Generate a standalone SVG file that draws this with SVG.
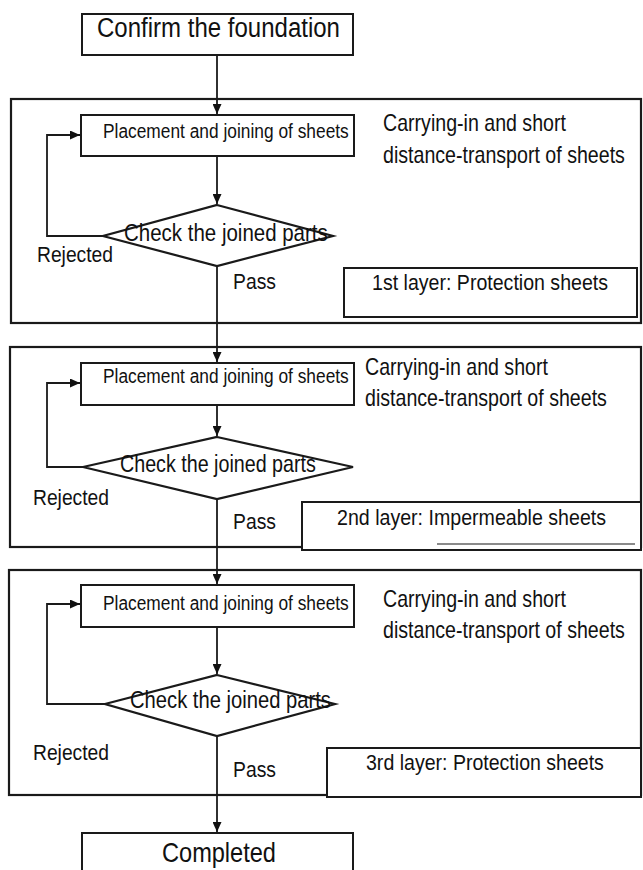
<svg xmlns="http://www.w3.org/2000/svg" width="643" height="870" viewBox="0 0 643 870">
  <defs>
    <marker id="arrow" markerUnits="userSpaceOnUse" markerWidth="10" markerHeight="9" refX="10" refY="4.5" orient="auto">
      <path d="M0,0 L10,4.5 L0,9 z" fill="#111"/>
    </marker>
    <style>
      text { font-family: "Liberation Sans", Arial, sans-serif; fill: #111; }
      .frame { fill: none; stroke: #1a1a1a; stroke-width: 2.2; }
      .box { fill: #fff; stroke: #1a1a1a; stroke-width: 2; }
      .dia { fill: #fff; stroke: #1a1a1a; stroke-width: 2.2; }
      .conn { fill: none; stroke: #1a1a1a; stroke-width: 1.8; }
      .big { font-size: 28px; }
      .proc { font-size: 21px; }
      .chk { font-size: 24px; }
      .note { font-size: 23px; }
      .lbl { font-size: 22px; }
    </style>
  </defs>
  <rect width="643" height="870" fill="#fff"/>

  <!-- layer frames with their side notes (narrow lettering via horizontal scale) -->
  <g id="layer1">
    <rect class="frame" x="11" y="99" width="630" height="224"/>
    <text class="note" transform="translate(383 131) scale(0.852 1)">Carrying-in and short</text>
    <text class="note" transform="translate(383 163) scale(0.853 1)">distance-transport of sheets</text>
    <text class="lbl" transform="translate(37 262) scale(0.876 1)">Rejected</text>
    <text class="lbl" transform="translate(233 289) scale(0.879 1)">Pass</text>
  </g>
  <g id="layer2">
    <rect class="frame" x="10" y="347" width="631" height="200"/>
    <text class="note" transform="translate(365 375) scale(0.852 1)">Carrying-in and short</text>
    <text class="note" transform="translate(365 406) scale(0.853 1)">distance-transport of sheets</text>
    <text class="lbl" transform="translate(33 505) scale(0.876 1)">Rejected</text>
    <text class="lbl" transform="translate(233 529) scale(0.879 1)">Pass</text>
  </g>
  <g id="layer3">
    <rect class="frame" x="9" y="570" width="632" height="225"/>
    <text class="note" transform="translate(383 607) scale(0.852 1)">Carrying-in and short</text>
    <text class="note" transform="translate(383 638) scale(0.853 1)">distance-transport of sheets</text>
    <text class="lbl" transform="translate(33 760) scale(0.876 1)">Rejected</text>
    <text class="lbl" transform="translate(233 777) scale(0.879 1)">Pass</text>
  </g>

  <!-- connectors -->
  <g id="connectors">
    <path class="conn" d="M217,55 V114" marker-end="url(#arrow)"/>
    <path class="conn" d="M217,156 V204" marker-end="url(#arrow)"/>
    <path class="conn" d="M217,266 V362" marker-end="url(#arrow)"/>
    <path class="conn" d="M217,405 V436" marker-end="url(#arrow)"/>
    <path class="conn" d="M217,499 V584" marker-end="url(#arrow)"/>
    <path class="conn" d="M217,627 V674" marker-end="url(#arrow)"/>
    <path class="conn" d="M217,736 V832" marker-end="url(#arrow)"/>
    <path class="conn" d="M103,236 H47 V135 H80" marker-end="url(#arrow)"/>
    <path class="conn" d="M83,467 H47 V383 H80" marker-end="url(#arrow)"/>
    <path class="conn" d="M105,704 H47 V604 H80" marker-end="url(#arrow)"/>
  </g>

  <!-- start / end -->
  <g id="confirm">
    <rect class="box" x="82" y="14" width="271" height="41"/>
    <text class="big" transform="translate(97 37) scale(0.858 1)">Confirm the foundation</text>
  </g>
  <g id="completed">
    <rect class="box" x="82" y="833" width="271" height="60"/>
    <text class="big" transform="translate(162 862) scale(0.842 1)">Completed</text>
  </g>

  <!-- placement steps -->
  <g id="place1">
    <rect class="box" x="81" y="115" width="273" height="41"/>
    <text class="proc" transform="translate(103 138) scale(0.826 1)">Placement and joining of sheets</text>
  </g>
  <g id="place2">
    <rect class="box" x="81" y="363" width="273" height="42"/>
    <text class="proc" transform="translate(103 383) scale(0.826 1)">Placement and joining of sheets</text>
  </g>
  <g id="place3">
    <rect class="box" x="81" y="585" width="273" height="42"/>
    <text class="proc" transform="translate(103 610) scale(0.826 1)">Placement and joining of sheets</text>
  </g>

  <!-- checks -->
  <g id="check1">
    <polygon class="dia" points="217,205 333,236 217,266 103,236"/>
    <text class="chk" transform="translate(124 241) scale(0.854 1)">Check the joined parts</text>
  </g>
  <g id="check2">
    <polygon class="dia" points="217,437 353,467 217,499 83,467"/>
    <text class="chk" transform="translate(120 472) scale(0.821 1)">Check the joined parts</text>
  </g>
  <g id="check3">
    <polygon class="dia" points="217,675 335,704 217,736 105,704"/>
    <text class="chk" transform="translate(130 708) scale(0.842 1)">Check the joined parts</text>
  </g>

  <!-- layer captions -->
  <g id="cap1">
    <rect class="box" x="344" y="268" width="293" height="49"/>
    <text class="lbl" transform="translate(372 290) scale(0.89 1)">1st layer: Protection sheets</text>
  </g>
  <g id="cap2">
    <rect class="box" x="302" y="502" width="339" height="48"/>
    <line x1="437" y1="544" x2="635" y2="544" stroke="#8a8a8a" stroke-width="2"/>
    <text class="lbl" transform="translate(337 525) scale(0.891 1)">2nd layer: Impermeable sheets</text>
  </g>
  <g id="cap3">
    <rect class="box" x="327" y="748" width="314" height="49"/>
    <text class="lbl" transform="translate(366 770) scale(0.889 1)">3rd layer: Protection sheets</text>
  </g>
</svg>
